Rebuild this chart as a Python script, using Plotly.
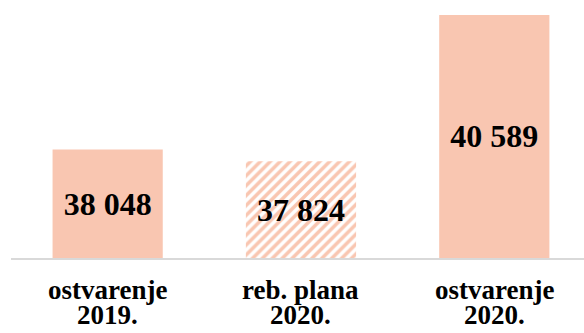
import plotly.graph_objects as go

# Category labels (two lines each) and values
cat_line1 = ["ostvarenje", "reb. plana", "ostvarenje"]
cat_line2 = ["2019.", "2020.", "2020."]
values = [38048, 37824, 40589]
patterns = ["", "/", ""]

# Value axis starts at this level
axis_base = 36000

peach = "#F9C6B1"
font_family = "Liberation Serif, Times New Roman, serif"


def fmt(v):
    return f"{v:,}".replace(",", " ")


x_pos = list(range(len(values)))

fig = go.Figure(
    go.Bar(
        x=x_pos,
        y=[v - axis_base for v in values],
        base=axis_base,
        width=0.57,
        marker=dict(
            color=peach,
            line=dict(width=0),
            pattern=dict(
                shape=patterns,
                fgcolor="white",
                bgcolor=peach,
                size=7,
                solidity=0.5,
                fillmode="replace",
            ),
        ),
        text=[fmt(v) for v in values],
        textposition="inside",
        insidetextanchor="middle",
        textangle=0,
        constraintext="none",
        textfont=dict(family=font_family, size=32, color="black", weight="bold"),
        hoverinfo="skip",
    )
)

# Two-line category labels under the axis
for i, (a, b) in enumerate(zip(cat_line1, cat_line2)):
    for txt, shift in ((a, -32), (b, -57)):
        fig.add_annotation(
            x=i, y=0, xref="x", yref="paper",
            text=f"<b>{txt}</b>", showarrow=False,
            yanchor="middle", yshift=shift,
            font=dict(family=font_family, size=27, color="black"),
        )

fig.update_layout(
    width=584,
    height=333,
    margin=dict(l=11, r=0, t=0, b=75),
    paper_bgcolor="white",
    plot_bgcolor="white",
    showlegend=False,
    bargap=0.43,
)
fig.update_xaxes(
    range=[-0.5, 2.464],
    showticklabels=False,
    showgrid=False,
    zeroline=False,
    ticks="",
    showline=True,
    linecolor="#D9D9D9",
    linewidth=2,
)
fig.update_yaxes(
    range=[axis_base, 40870],
    visible=False,
    showgrid=False,
    zeroline=False,
)

fig.write_html("out.html")
